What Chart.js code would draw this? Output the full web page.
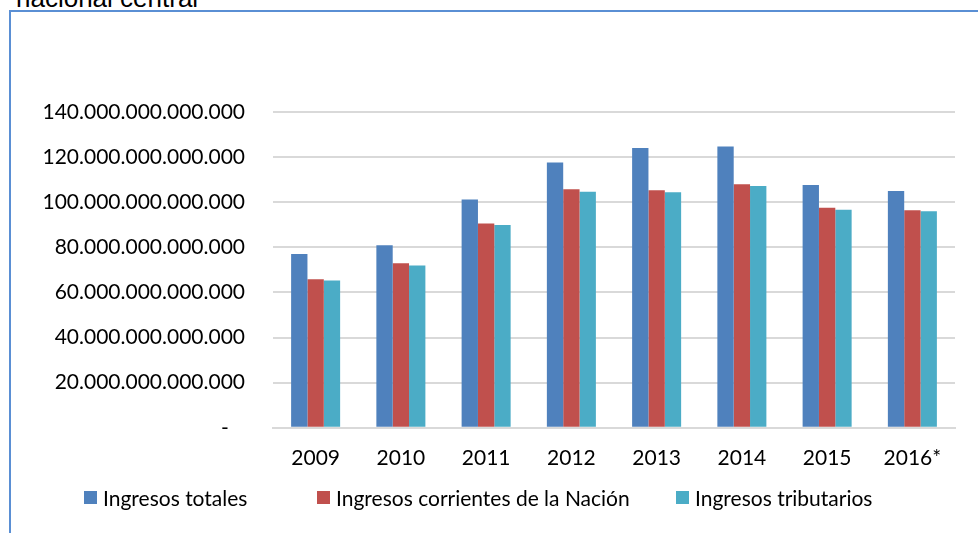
<!DOCTYPE html>
<html lang="es">
<head>
  <meta charset="UTF-8" />
  <title>Ingresos del gobierno nacional central</title>
  <script src="https://cdn.jsdelivr.net/npm/chart.js"></script>
  <style>
    html, body { margin: 0; padding: 0; background: #fff; overflow: hidden; }
    body { width: 978px; height: 533px; position: relative; }
    .titulo { position: absolute; left: 16px; top: -15px; font: 26px 'Liberation Sans', Arial, sans-serif; line-height: 26px; color: #000; white-space: nowrap; }
    .marco { position: absolute; left: 9px; top: 10px; width: 1000px; height: 560px; border: 2px solid #5a8fd4; box-sizing: border-box; }
    #grafico { position: absolute; left: 0; top: 0; }
    #leyenda { position: absolute; left: 0; top: 484px; width: 978px; height: 26px; font: 21px Lato, 'Open Sans', sans-serif; color: #000; }
    #leyenda .item { position: absolute; top: 0; display: flex; align-items: center; height: 26px; white-space: nowrap; }
    #leyenda .caja { width: 13px; height: 13px; margin-right: 6px; }
  </style>
</head>
<body>
  <div class="titulo">nacional central</div>
  <div class="marco"></div>
  <canvas id="grafico" width="978" height="533"></canvas>
  <div id="leyenda"></div>

  <script>
    const anios = ['2009', '2010', '2011', '2012', '2013', '2014', '2015', '2016*'];

    // valores en pesos
    const ingresosTotales = [77.0e12, 80.9e12, 101.2e12, 117.6e12, 124.0e12, 124.7e12, 107.6e12, 105.0e12];
    const ingresosCorrientes = [65.8e12, 72.9e12, 90.6e12, 105.8e12, 105.3e12, 108.0e12, 97.5e12, 96.4e12];
    const ingresosTributarios = [65.3e12, 72.0e12, 89.9e12, 104.6e12, 104.4e12, 107.2e12, 96.7e12, 96.0e12];

    const fuente = { family: 'Lato, "Open Sans", sans-serif', size: 21 };

    function miles(v) {
      if (v === 0) return '-   ';
      return Math.round(v).toString().replace(/\B(?=(\d{3})+(?!\d))/g, '.');
    }

    const ctx = document.getElementById('grafico').getContext('2d');
    const grafico = new Chart(ctx, {
      type: 'bar',
      data: {
        labels: anios,
        datasets: [
          { label: 'Ingresos totales', data: ingresosTotales, backgroundColor: '#4f81bd' },
          { label: 'Ingresos corrientes de la Nación', data: ingresosCorrientes, backgroundColor: '#c0504d' },
          { label: 'Ingresos tributarios', data: ingresosTributarios, backgroundColor: '#4bacc6' }
        ]
      },
      options: {
        responsive: false,
        animation: false,
        layout: { padding: { top: 112, right: 23, left: 0, bottom: 44 } },
        datasets: { bar: { categoryPercentage: 0.575, barPercentage: 1 } },
        plugins: {
          tooltip: { enabled: false },
          legend: { display: false }
        },
        scales: {
          x: {
            grid: { display: false, drawTicks: false },
            border: { color: '#d9d9d9', width: 2 },
            ticks: { color: '#000', font: fuente, padding: 18 }
          },
          y: {
            min: 0,
            max: 140e12,
            afterFit: (s) => { s.width = 273; },
            grid: { color: '#d9d9d9', lineWidth: 2, drawTicks: false },
            border: { display: false },
            ticks: { color: '#000', font: fuente, stepSize: 20e12, padding: 28, callback: miles }
          }
        }
      }
    });

    // leyenda en HTML a partir de los datasets
    const posLeyenda = [84, 317, 676];
    const leyenda = document.getElementById('leyenda');
    grafico.data.datasets.forEach((ds, i) => {
      const item = document.createElement('div');
      item.className = 'item';
      item.style.left = posLeyenda[i] + 'px';
      const caja = document.createElement('span');
      caja.className = 'caja';
      caja.style.background = ds.backgroundColor;
      item.appendChild(caja);
      item.appendChild(document.createTextNode(ds.label));
      leyenda.appendChild(item);
    });
  </script>
</body>
</html>
